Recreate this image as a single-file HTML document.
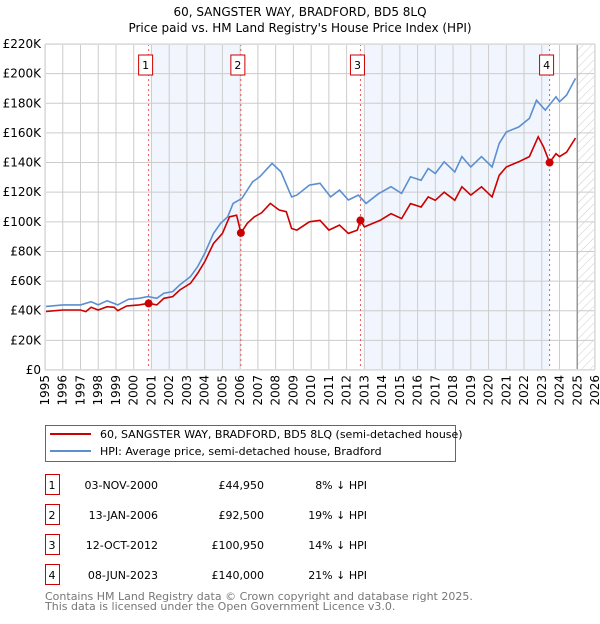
<!DOCTYPE html>
<html><head><meta charset="utf-8">
<style>
body{margin:0;background:#fff;width:600px;height:620px;overflow:hidden;font-family:"DejaVu Sans","Liberation Sans",sans-serif;}
svg text{font-family:"DejaVu Sans","Liberation Sans",sans-serif;}
</style></head>
<body>
<svg id="chart" width="600" height="620" xmlns="http://www.w3.org/2000/svg">
<text x="300" y="16" text-anchor="middle" font-size="12" fill="#000">60, SANGSTER WAY, BRADFORD, BD5 8LQ</text>
<text x="300" y="32" text-anchor="middle" font-size="12" fill="#000">Price paid vs. HM Land Registry's House Price Index (HPI)</text>
<defs><pattern id="hatch" patternUnits="userSpaceOnUse" width="6" height="6" patternTransform="rotate(45)"><line x1="0" y1="0" x2="0" y2="6" stroke="#ccc" stroke-width="1"/></pattern></defs>
<g id="plot"></g>
<g>
<rect x="45.5" y="425.5" width="410" height="36" fill="#fff" stroke="#666"/>
<line x1="50" y1="434" x2="91" y2="434" stroke="#cc0000" stroke-width="2"/>
<text x="100" y="438" font-size="11">60, SANGSTER WAY, BRADFORD, BD5 8LQ (semi-detached house)</text>
<line x1="50" y1="451" x2="91" y2="451" stroke="#5b8fd0" stroke-width="2"/>
<text x="100" y="455" font-size="11">HPI: Average price, semi-detached house, Bradford</text>
</g>
<g id="table"></g>
<text x="45" y="600" font-size="11" fill="#777">Contains HM Land Registry data © Crown copyright and database right 2025.</text>
<text x="45" y="610" font-size="11" fill="#777">This data is licensed under the Open Government Licence v3.0.</text>
</svg>
<script>
const hpiYears=[1995,1996,1997,1997.6,1998,1998.5,1999.1,1999.7,2000.3,2000.8,2001.3,2001.7,2002.2,2002.6,2003.2,2003.6,2004.0,2004.5,2004.9,2005.3,2005.6,2006.1,2006.7,2007.1,2007.8,2008.3,2008.9,2009.2,2009.9,2010.5,2011.1,2011.6,2012.1,2012.66,2013.1,2013.8,2014.5,2015.1,2015.6,2016.2,2016.6,2017.0,2017.5,2018.1,2018.5,2019.0,2019.6,2020.2,2020.6,2021.0,2021.7,2022.3,2022.7,2023.2,2023.8,2024.0,2024.4,2024.9];
const hpiValues=[42.8,43.9,43.9,46.1,43.9,46.8,43.9,47.7,48.4,49.5,48.4,51.8,52.9,57.4,63,69.7,78.7,92.2,99,103.4,112.4,115.8,127,130.4,139.4,133.7,116.8,118,124.8,126,116.8,121.4,114.7,118,112.4,119,123.7,119.2,130.4,128,136,132.6,140.5,133.7,144,137,144,137,152.9,160.6,164,169.8,182,175.4,184.4,181,185.5,196.8];
const priceYears=[1995,1996,1997,1997.3,1997.6,1998,1998.5,1998.9,1999.1,1999.6,2000.3,2000.84,2001.3,2001.7,2002.2,2002.6,2003.2,2003.6,2004.0,2004.5,2005.0,2005.4,2005.8,2006.04,2006.4,2006.8,2007.2,2007.7,2008.2,2008.6,2008.9,2009.2,2009.9,2010.5,2011.0,2011.6,2012.1,2012.6,2012.78,2013.0,2013.9,2014.5,2015.1,2015.6,2016.2,2016.6,2017.0,2017.5,2018.1,2018.5,2019.0,2019.6,2020.2,2020.6,2021.0,2021.7,2022.3,2022.8,2023.1,2023.44,2023.8,2024.0,2024.4,2024.9];
const priceValues=[39.4,40.5,40.5,39.4,42.3,40.5,42.7,42.3,40,43.2,43.9,45,43.9,48.4,49.5,54,58.5,65.2,73,85.4,92.2,103.4,104.5,92.5,99,103.4,106,112.4,108,106.8,95.5,94.4,100,101,94.4,97.8,92.2,94.4,100.95,96.6,101,105.5,102.2,112.3,110,116.8,114.5,120,114.5,123.6,118,123.6,116.8,131.4,137,140.5,144,157.4,150.6,140,146,144,147,156.5];
const saleYears=[2000.84,2006.04,2012.78,2023.44];
const saleValues=[44.95,92.5,100.95,140];
const saleLabels=["1","2","3","4"];
const saleDates=["03-NOV-2000","13-JAN-2006","12-OCT-2012","08-JUN-2023"];
const salePrices=["£44,950","£92,500","£100,950","£140,000"];
const saleDiffs=["8% ↓ HPI","19% ↓ HPI","14% ↓ HPI","21% ↓ HPI"];
const yTicks=[0,20,40,60,80,100,120,140,160,180,200,220];
const yTickLabels=["£0","£20K","£40K","£60K","£80K","£100K","£120K","£140K","£160K","£180K","£200K","£220K"];
const xTicks=[1995,1996,1997,1998,1999,2000,2001,2002,2003,2004,2005,2006,2007,2008,2009,2010,2011,2012,2013,2014,2015,2016,2017,2018,2019,2020,2021,2022,2023,2024,2025,2026];

const L=45,R=595,T=44,B=370,X0=1995,X1=2026,YMAX=220;
const xs=y=>L+(y-X0)/(X1-X0)*(R-L);
const ys=v=>B-v/YMAX*(B-T);
const NS="http://www.w3.org/2000/svg";
const plot=document.getElementById('plot');
function mk(tag,attrs,parent){const e=document.createElementNS(NS,tag);for(const k in attrs)e.setAttribute(k,attrs[k]);(parent||plot).appendChild(e);return e;}

mk('rect',{x:L,y:T,width:R-L,height:B-T,fill:'#fff'});
let s1=mk('rect',{x:xs(2001),y:T,width:xs(saleYears[1])-xs(2001),height:B-T,fill:'#eef3fc',opacity:0.8});


let s2=mk('rect',{x:xs(2013),y:T,width:xs(saleYears[3])-xs(2013),height:B-T,fill:'#eef3fc',opacity:0.8});


let hz=mk('rect',{x:xs(2025),y:T,width:R-xs(2025),height:B-T,fill:'url(#hatch)'});


yTicks.forEach((v,i)=>{
  mk('line',{x1:L,x2:R,y1:ys(v),y2:ys(v),stroke:'#ccc','stroke-width':1});
  const t=mk('text',{x:L-4,y:ys(v)+4,'text-anchor':'end','font-size':12,fill:'#000'});
  t.textContent=yTickLabels[i];
  
  
});
xTicks.forEach(yr=>{
  mk('line',{x1:xs(yr),x2:xs(yr),y1:T,y2:B,stroke:'#ccc','stroke-width':1});
  const t=mk('text',{x:0,y:0,'text-anchor':'end','font-size':12,fill:'#000',transform:`translate(${xs(yr)+4},${B+5}) rotate(-90)`});
  t.textContent=yr;
  
  
});
mk('line',{x1:xs(2025),x2:xs(2025),y1:T,y2:B,stroke:'#999','stroke-width':1.5});
saleYears.forEach((yr,i)=>{
  const l=mk('line',{x1:xs(yr),x2:xs(yr),y1:T,y2:B,stroke:'#e55','stroke-width':1,'stroke-dasharray':'2,3'});
  
  
  const bx=xs(yr)-3;
  const r=mk('rect',{x:bx-7,y:55,width:14,height:20,fill:'#fff',stroke:'#cc0000','stroke-width':1});
  
  
  const t=mk('text',{x:bx,y:69,'text-anchor':'middle','font-size':11,fill:'#000'});
  t.textContent=saleLabels[i];
});
function pathFrom(xa,va){return xa.map((x,i)=>(i?'L':'M')+xs(x).toFixed(1)+','+ys(va[i]).toFixed(1)).join(' ');}
const hp=mk('path',{d:pathFrom(hpiYears,hpiValues),fill:'none',stroke:'#5b8fd0','stroke-width':1.6});


const pp=mk('path',{d:pathFrom(priceYears,priceValues),fill:'none',stroke:'#cc0000','stroke-width':1.6});


saleYears.forEach((yr,i)=>{
  const c=mk('circle',{cx:xs(yr),cy:ys(saleValues[i]),r:4,fill:'#cc0000'});
  
  
});
mk('rect',{x:L+0.5,y:T+0.5,width:R-L-1,height:B-T-1,fill:'none',stroke:'#ddd'});
const tb=document.getElementById('table');
saleLabels.forEach((lab,i)=>{
  const y=478+i*30;
  const r=mk('rect',{x:45.5,y:y-3.5,width:14,height:20,fill:'#fff',stroke:'#cc0000'},tb);
  
  
  const cells=[[52,'middle',lab],[158,'end',saleDates[i]],[264,'end',salePrices[i]],[367,'end',saleDiffs[i]]];
  cells.forEach(c=>{
    const t=mk('text',{x:c[0],y:y+11,'text-anchor':c[1],'font-size':11,fill:'#000'},tb);
    t.textContent=c[2];
    
    
  });
});
</script>
</body></html>
